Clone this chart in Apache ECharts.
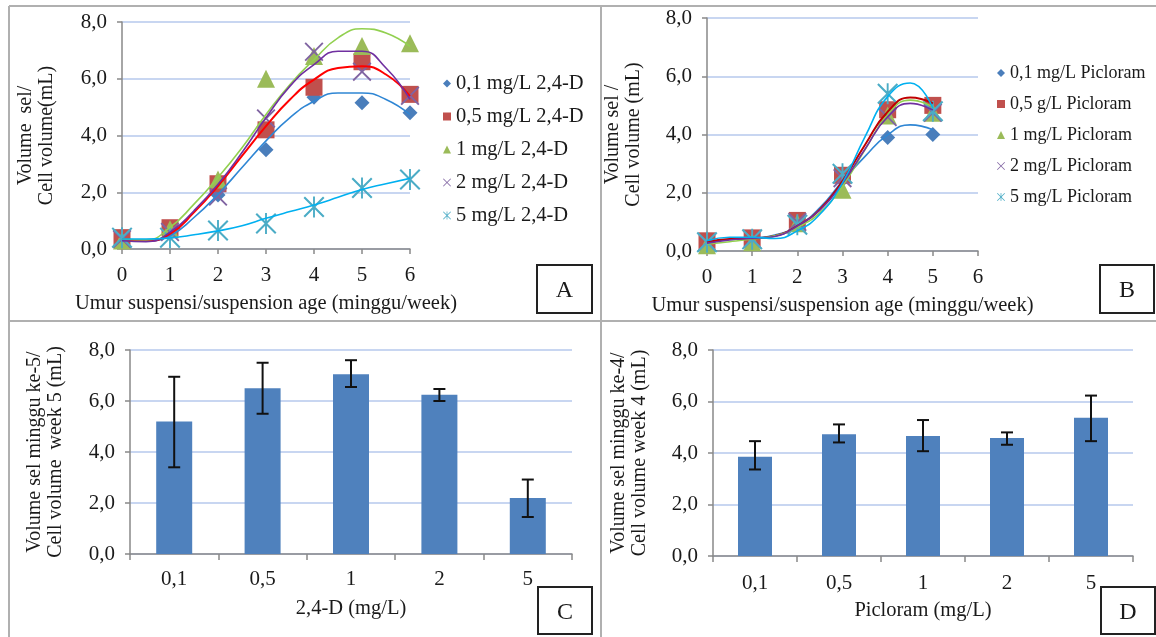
<!DOCTYPE html>
<html><head><meta charset="utf-8">
<script src="https://cdn.jsdelivr.net/npm/echarts@6/dist/echarts.min.js"></script>
<style>html,body{margin:0;padding:0;background:#fff}#c{width:1156px;height:637px}</style>
</head><body><div id="c"></div>
<script>
// ---- Data ----
const weeksA = [0, 1, 2, 3, 4, 5, 6];
const a01 = [0.35, 0.55, 1.9, 3.5, 5.35, 5.15, 4.8];
const a05 = [0.4, 0.75, 2.3, 4.2, 5.7, 6.6, 5.45];
const a1  = [0.3, 0.7, 2.45, 6.0, 6.8, 7.15, 7.25];
const a2  = [0.35, 0.6, 1.85, 4.6, 6.95, 6.25, 5.4];
const a5  = [0.4, 0.4, 0.65, 0.9, 1.48, 2.15, 2.45];
const trendXA = [0, 0.5, 1, 1.5, 2, 2.5, 3, 3.5, 4, 4.5, 5, 5.5, 6];
const trendA01 = [0.32, 0.29, 0.47, 1.11, 1.93, 2.87, 3.81, 4.63, 5.21, 5.50, 5.50, 5.27, 4.74];
const trendA05 = [0.35, 0.29, 0.53, 1.29, 2.22, 3.28, 4.33, 5.27, 5.97, 6.38, 6.44, 6.15, 5.39];
const trendA1  = [0.35, 0.32, 0.76, 1.58, 2.52, 3.57, 4.74, 5.80, 6.67, 7.44, 7.76, 7.61, 7.14];
const trendA2  = [0.29, 0.26, 0.59, 1.35, 2.28, 3.40, 4.63, 5.74, 6.50, 6.97, 6.97, 6.38, 5.27];
const trendA5  = [0.35, 0.35, 0.39, 0.50, 0.64, 0.82, 1.08, 1.32, 1.55, 1.82, 2.10, 2.30, 2.49];
const namesA = ['0,1 mg/L 2,4-D', '0,5 mg/L 2,4-D', '1 mg/L 2,4-D', '2 mg/L 2,4-D', '5 mg/L 2,4-D'];

const weeksB = [0, 1, 2, 3, 4, 5];
const b01 = [0.3, 0.4, 1.0, 2.45, 3.9, 4.0];
const b05 = [0.35, 0.45, 1.05, 2.6, 4.85, 5.0];
const b1  = [0.2, 0.3, 0.95, 2.1, 4.65, 4.75];
const b2  = [0.3, 0.4, 1.0, 2.5, 4.6, 4.75];
const b5  = [0.3, 0.4, 0.9, 2.65, 5.4, 4.8];
const trendXB = [0, 0.5, 1, 1.5, 2, 2.5, 3, 3.5, 4, 4.5, 5];
const trendB01 = [0.32, 0.40, 0.44, 0.55, 0.86, 1.49, 2.40, 3.25, 3.99, 4.33, 4.16];
const trendB05 = [0.30, 0.41, 0.43, 0.52, 0.86, 1.43, 2.40, 3.65, 4.78, 5.27, 5.07];
const trendB1  = [0.24, 0.32, 0.41, 0.52, 0.81, 1.32, 2.23, 3.48, 4.67, 5.18, 4.95];
const trendB2  = [0.27, 0.38, 0.43, 0.50, 0.86, 1.40, 2.32, 3.50, 4.61, 5.07, 4.84];
const trendB5  = [0.35, 0.47, 0.47, 0.43, 0.69, 1.26, 2.34, 3.93, 5.30, 5.77, 4.90];
const namesB = ['0,1 mg/L Picloram', '0,5 g/L Picloram', '1 mg/L Picloram', '2 mg/L Picloram', '5 mg/L Picloram'];

const catsC = ['0,1', '0,5', '1', '2', '5'];
const barC = [5.2, 6.5, 7.05, 6.25, 2.2];
const errCLow = [3.4, 5.5, 6.55, 6.0, 1.45];
const errCHigh = [6.95, 7.5, 7.6, 6.47, 2.92];

const catsD = ['0,1', '0,5', '1', '2', '5'];
const barD = [3.85, 4.73, 4.66, 4.58, 5.37];
const errDLow = [3.36, 4.41, 4.07, 4.32, 4.46];
const errDHigh = [4.46, 5.11, 5.28, 4.8, 6.23];

const yTicks = [0, 8, 2]; // min, max, interval

// ---- Styles ----
const FONT = 'Liberation Serif';
const TXT = '#1a1a1a';
const AXIS = '#898989';
const GRIDC = '#b6c9ec';
const markerCol = ['#4a7ebb', '#c0504d', '#9bbb59', '#8064a2', '#4bacc6'];
const lineColA = ['#2f86d4', '#ff0000', '#92d050', '#7030a0', '#00b0f0'];
const lineColB = ['#2f86d4', '#c00000', '#92d050', '#7030a0', '#00b0f0'];
const SYM_X = 'path://M0,0.7 L0.7,0 L5,4.3 L9.3,0 L10,0.7 L5.7,5 L10,9.3 L9.3,10 L5,5.7 L0.7,10 L0,9.3 L4.3,5 Z';
const SYM_STAR = 'path://M0,0.7 L0.7,0 L5,4.3 L9.3,0 L10,0.7 L5.7,5 L10,9.3 L9.3,10 L5,5.7 L0.7,10 L0,9.3 L4.3,5 Z M4.55,0 L5.45,0 L5.45,10 L4.55,10 Z';
const symbols = ['diamond', 'rect', 'triangle', SYM_X, SYM_STAR];
const symSizes = [15, 17, 18, 19, 21];
const fmtY = v => v.toFixed(1).replace('.', ',');

function yAxis(gi, name, gap) {
  return {
    type: 'value', gridIndex: gi, min: yTicks[0], max: yTicks[1], interval: yTicks[2],
    name: name, nameLocation: 'middle', nameRotate: 90, nameGap: gap,
    nameTextStyle: { fontFamily: FONT, fontSize: 20, color: TXT, lineHeight: 21 },
    axisLine: { show: true, lineStyle: { color: AXIS, width: 1.5 } },
    axisTick: { show: true, length: 5, lineStyle: { color: AXIS, width: 1.5 } },
    axisLabel: { formatter: fmtY, fontFamily: FONT, fontSize: 21, color: TXT, margin: 15 },
    splitLine: { show: true, lineStyle: { color: GRIDC, width: 1.5 } }
  };
}
function xValAxis(gi, name) {
  return {
    type: 'value', gridIndex: gi, min: 0, max: 6, interval: 1,
    name: name, nameLocation: 'middle', nameGap: 44,
    nameTextStyle: { fontFamily: FONT, fontSize: 20.5, color: TXT },
    axisLine: { show: true, onZero: false, lineStyle: { color: AXIS, width: 1.5 } },
    axisTick: { show: true, length: 5, lineStyle: { color: AXIS, width: 1.5 } },
    axisLabel: { fontFamily: FONT, fontSize: 21, color: TXT, margin: 16 },
    splitLine: { show: false }
  };
}
function xCatAxis(gi, cats, name, margin) {
  return {
    type: 'category', gridIndex: gi, data: cats,
    name: name, nameLocation: 'middle', nameGap: 44,
    nameTextStyle: { fontFamily: FONT, fontSize: 20.5, color: TXT },
    axisLine: { show: true, lineStyle: { color: AXIS, width: 1.5 } },
    axisTick: { show: true, length: 6, lineStyle: { color: AXIS, width: 1.5 } },
    axisLabel: { fontFamily: FONT, fontSize: 21, color: TXT, margin: margin },
    splitLine: { show: false }
  };
}

const series = [];
function addPanel(gi, weeks, vals, names, tx, trends, lineCols) {
  vals.forEach((arr, i) => {
    series.push({
      type: 'scatter', name: names[i], xAxisIndex: gi, yAxisIndex: gi,
      symbol: symbols[i], symbolSize: symSizes[i], symbolKeepAspect: true,
      itemStyle: { color: markerCol[i], opacity: 1 },
      data: weeks.map((w, k) => [w, arr[k]]), z: 3
    });
  });
  trends.forEach((arr, i) => {
    series.push({
      type: 'line', name: 'trend-' + gi + '-' + i, xAxisIndex: gi, yAxisIndex: gi,
      smooth: 0.5, showSymbol: false, silent: true,
      lineStyle: { color: lineCols[i], width: i === 1 ? 2 : 1.6 },
      data: tx.map((x, k) => [x, arr[k]]), z: 4
    });
  });
}
addPanel(0, weeksA, [a01, a05, a1, a2, a5], namesA, trendXA, [trendA01, trendA05, trendA1, trendA2, trendA5], lineColA);
addPanel(1, weeksB, [b01, b05, b1, b2, b5], namesB, trendXB, [trendB01, trendB05, trendB1, trendB2, trendB5], lineColB);

function errSeries(gi, lo, hi) {
  return {
    type: 'custom', xAxisIndex: gi, yAxisIndex: gi, z: 5, silent: true,
    data: lo.map((l, k) => [k, l, hi[k]]),
    encode: { x: 0, y: [1, 2] },
    renderItem: (params, api) => {
      const i = api.value(0);
      const p1 = api.coord([i, api.value(1)]);
      const p2 = api.coord([i, api.value(2)]);
      const hw = 6;
      const st = { stroke: '#111', lineWidth: 2 };
      return { type: 'group', children: [
        { type: 'line', shape: { x1: p1[0], y1: p1[1], x2: p2[0], y2: p2[1] }, style: st },
        { type: 'line', shape: { x1: p1[0] - hw, y1: p1[1], x2: p1[0] + hw, y2: p1[1] }, style: st },
        { type: 'line', shape: { x1: p2[0] - hw, y1: p2[1], x2: p2[0] + hw, y2: p2[1] }, style: st }
      ]};
    }
  };
}
series.push({ type: 'bar', xAxisIndex: 2, yAxisIndex: 2, data: barC, barWidth: 36, itemStyle: { color: '#4f81bd' } });
series.push(errSeries(2, errCLow, errCHigh));
series.push({ type: 'bar', xAxisIndex: 3, yAxisIndex: 3, data: barD, barWidth: 34, itemStyle: { color: '#4f81bd' } });
series.push(errSeries(3, errDLow, errDHigh));

function legend(names, left, top, gap, fs) {
  return {
    orient: 'vertical', left: left, top: top, itemGap: gap, itemWidth: 8, itemHeight: 8,
    selectedMode: false,
    textStyle: { fontFamily: FONT, fontSize: fs, color: TXT, lineHeight: fs },
    data: names.map((n, i) => ({ name: n, icon: symbols[i] }))
  };
}

function labelBox(x, y, w, h, t) {
  return { type: 'group', children: [
    { type: 'rect', shape: { x: x, y: y, width: w, height: h }, style: { fill: '#fff', stroke: '#222', lineWidth: 2 } },
    { type: 'text', x: x + w / 2, y: y + h / 2 + 2, style: { text: t, fontFamily: FONT, fontSize: 24, fill: TXT, align: 'center', verticalAlign: 'middle' } }
  ]};
}
const BORDER = { stroke: '#b0b0b0', lineWidth: 2 };

const option = {
  animation: false,
  backgroundColor: '#fff',
  grid: [
    { left: 122, top: 22, width: 288, height: 227 },
    { left: 707, top: 18, width: 271, height: 233 },
    { left: 130, top: 350, width: 442, height: 204 },
    { left: 713, top: 350, width: 420, height: 206 }
  ],
  xAxis: [
    xValAxis(0, 'Umur suspensi/suspension age (minggu/week)'),
    xValAxis(1, 'Umur suspensi/suspension age (minggu/week)'),
    xCatAxis(2, catsC, '2,4-D (mg/L)', 15),
    xCatAxis(3, catsD, 'Picloram (mg/L)', 17)
  ],
  yAxis: [
    yAxis(0, 'Volume  sel/\nCell volume(mL)', 65),
    yAxis(1, 'Volume sel /\nCell volume (mL)', 63),
    yAxis(2, 'Volume sel minggu ke-5/\nCell volume  week 5 (mL)', 64),
    yAxis(3, 'Volume sel minggu ke-4/\nCell volume week 4 (mL)', 63)
  ],
  legend: [
    legend(namesA, 438, 68, 12, 20.5),
    legend(namesB, 992, 59, 13, 18)
  ],
  series: series,
  graphic: [
    { type: 'line', shape: { x1: 9, y1: 6, x2: 1156, y2: 6 }, style: BORDER, z: 100 },
    { type: 'line', shape: { x1: 9, y1: 6, x2: 9, y2: 637 }, style: BORDER, z: 100 },
    { type: 'line', shape: { x1: 601, y1: 6, x2: 601, y2: 637 }, style: BORDER, z: 100 },
    { type: 'line', shape: { x1: 9, y1: 321, x2: 1156, y2: 321 }, style: BORDER, z: 100 },
    labelBox(537, 265, 55, 48, 'A'),
    labelBox(1100, 265, 54, 48, 'B'),
    labelBox(538, 587, 54, 47, 'C'),
    labelBox(1101, 587, 54, 47, 'D')
  ]
};
const chart = echarts.init(document.getElementById('c'), null, { renderer: 'canvas' });
chart.setOption(option);
</script></body></html>
